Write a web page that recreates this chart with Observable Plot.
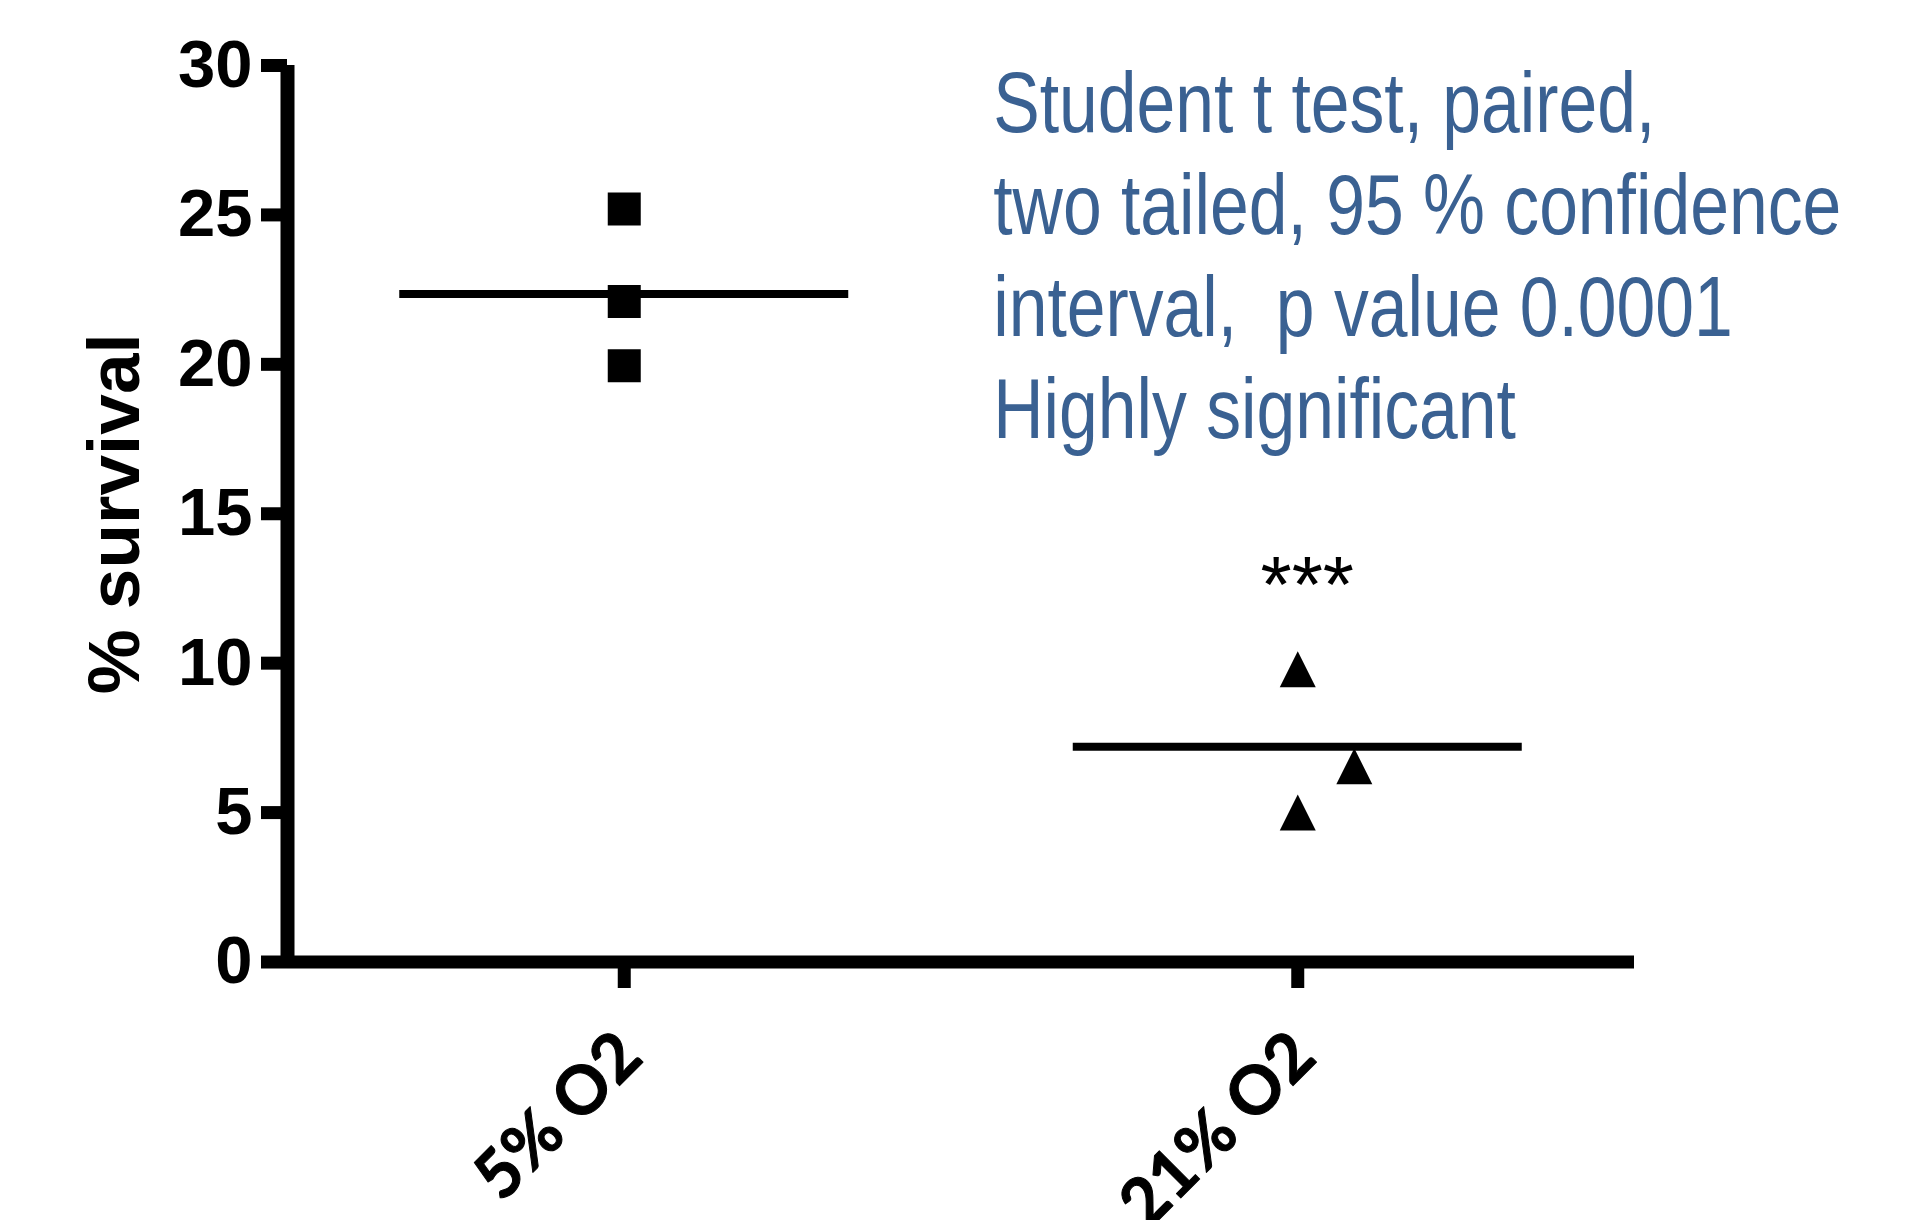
<!DOCTYPE html>
<html>
<head>
<meta charset="utf-8">
<script src="https://cdn.jsdelivr.net/npm/d3@7"></script>
<script src="https://cdn.jsdelivr.net/npm/@observablehq/plot@0.6"></script>
<style>
  html, body { margin: 0; padding: 0; background: #fff; overflow: hidden; }
  #chart svg { display: block; }
  #chart text { white-space: pre; }
</style>
</head>
<body>
<div id="chart"></div>
<script>
// ---- data ----
const groups = ["5% O2", "21% O2"];
const groupPos = [1, 2];
const survival5 = [25.2, 22.1, 19.95];
const survival21 = [9.8, 6.55, 5.0];
const scatter5 = [0, 0, 0];          // horizontal scatter of points (category units)
const scatter21 = [0, 0.084, 0];
const groupMeans = [22.35, 7.2];
const yTicks = [0, 5, 10, 15, 20, 25, 30];
const yLabel = "% survival";
const sigLabel = "***";
const sigPos = [{x: 2, y: 11.7}];
const noteLines = [
  "Student t test, paired,",
  "two tailed, 95 % confidence",
  "interval,  p value 0.0001",
  "Highly significant"
];
const notePos = {x: 1.548, y: 17.53};

// ---- derived tables ----
const pts5 = survival5.map((v, i) => ({group: groups[0], x: groupPos[0] + scatter5[i], y: v}));
const pts21 = survival21.map((v, i) => ({group: groups[1], x: groupPos[1] + scatter21[i], y: v}));
const meanHalf = 1 / 3;
const means = groupPos.map((p, i) => ({x1: p - meanHalf, x2: p + meanHalf, y: groupMeans[i]}));
const xLabels = groups.map((g, i) => ({x: groupPos[i], y: 0, label: g}));

// custom symbols (side = sqrt(size))
const squareSym = {draw(ctx, size) { const s = Math.sqrt(size) / 2; ctx.moveTo(-s, -s); ctx.lineTo(s, -s); ctx.lineTo(s, s); ctx.lineTo(-s, s); ctx.closePath(); }};
const triSym = {draw(ctx, size) { const s = Math.sqrt(size) / 2; ctx.moveTo(0, -s); ctx.lineTo(s, s); ctx.lineTo(-s, s); ctx.closePath(); }};

const sans = "'Liberation Sans', Arial, Helvetica, sans-serif";

const chart = Plot.plot({
  width: 1929,
  height: 1220,
  marginLeft: 287,
  marginRight: 295,
  marginTop: 65,
  marginBottom: 258.5,
  style: {background: "#fff", color: "#000", fontFamily: sans, overflow: "visible"},
  x: {type: "linear", domain: [0.5, 2.5]},
  y: {domain: [0, 30]},
  marks: [
    // axes lines
    Plot.ruleY([0], {x1: 0.5, x2: 2.5, strokeWidth: 13, stroke: "#000"}),
    Plot.ruleX([0.5], {y1: 0, y2: 30, strokeWidth: 14, stroke: "#000"}),
    Plot.axisY({ticks: yTicks, tickSize: 26, tickPadding: 9, strokeWidth: 13, fontSize: 67, fontWeight: "bold", fontFamily: sans, label: null, tickFormat: d => String(d)}),
    Plot.axisX({ticks: groupPos, tickSize: 26.5, strokeWidth: 13, tickFormat: () => "", label: null}),
    // x tick labels (rotated)
    Plot.text(xLabels, {x: "x", y: "y", text: "label", dx: 21, dy: 98, rotate: -45, textAnchor: "end", lineAnchor: "bottom", fontSize: 67, fontWeight: "bold", fontFamily: "Lato, 'Liberation Sans', sans-serif", fill: "#000", stroke: "#000", strokeWidth: 1}),
    // y label
    Plot.text([{x: 0.5, y: 15, t: yLabel}], {x: "x", y: "y", text: "t", dx: -149, rotate: -90, textAnchor: "middle", lineAnchor: "bottom", fontSize: 73, fontWeight: "bold", fontFamily: sans, fill: "#000"}),
    // means
    Plot.ruleY(means, {x1: "x1", x2: "x2", y: "y", strokeWidth: 8, stroke: "#000"}),
    // points
    Plot.dot(pts5, {x: "x", y: "y", symbol: squareSym, r: 33 / Math.sqrt(Math.PI), fill: "#000", stroke: "none"}),
    Plot.dot(pts21, {x: "x", y: "y", symbol: triSym, r: 36 / Math.sqrt(Math.PI), fill: "#000", stroke: "none"}),
    // significance
    Plot.text(sigPos, {x: "x", y: "y", text: () => sigLabel, dx: 9.5, textAnchor: "middle", lineAnchor: "bottom", fontSize: 80, fontFamily: sans, fill: "#000"}),
    // note
    Plot.text([{x: notePos.x, y: notePos.y, t: noteLines.join("\n")}], {x: "x", y: "y", text: "t", textAnchor: "start", lineAnchor: "bottom", lineHeight: 1.186, fontSize: 86, fontFamily: sans, fill: "#3a6192", className: "stats-note"})
  ]
});

document.getElementById("chart").appendChild(chart);

// condense the note horizontally (narrow face)
const noteG = chart.querySelector(".stats-note");
if (noteG) {
  const x0 = chart.scale("x").apply(notePos.x);
  const prev = noteG.getAttribute("transform") || "";
  noteG.setAttribute("transform", `translate(${x0},0) scale(0.81,1) translate(${-x0},0) ${prev}`);
}
</script>
</body>
</html>
